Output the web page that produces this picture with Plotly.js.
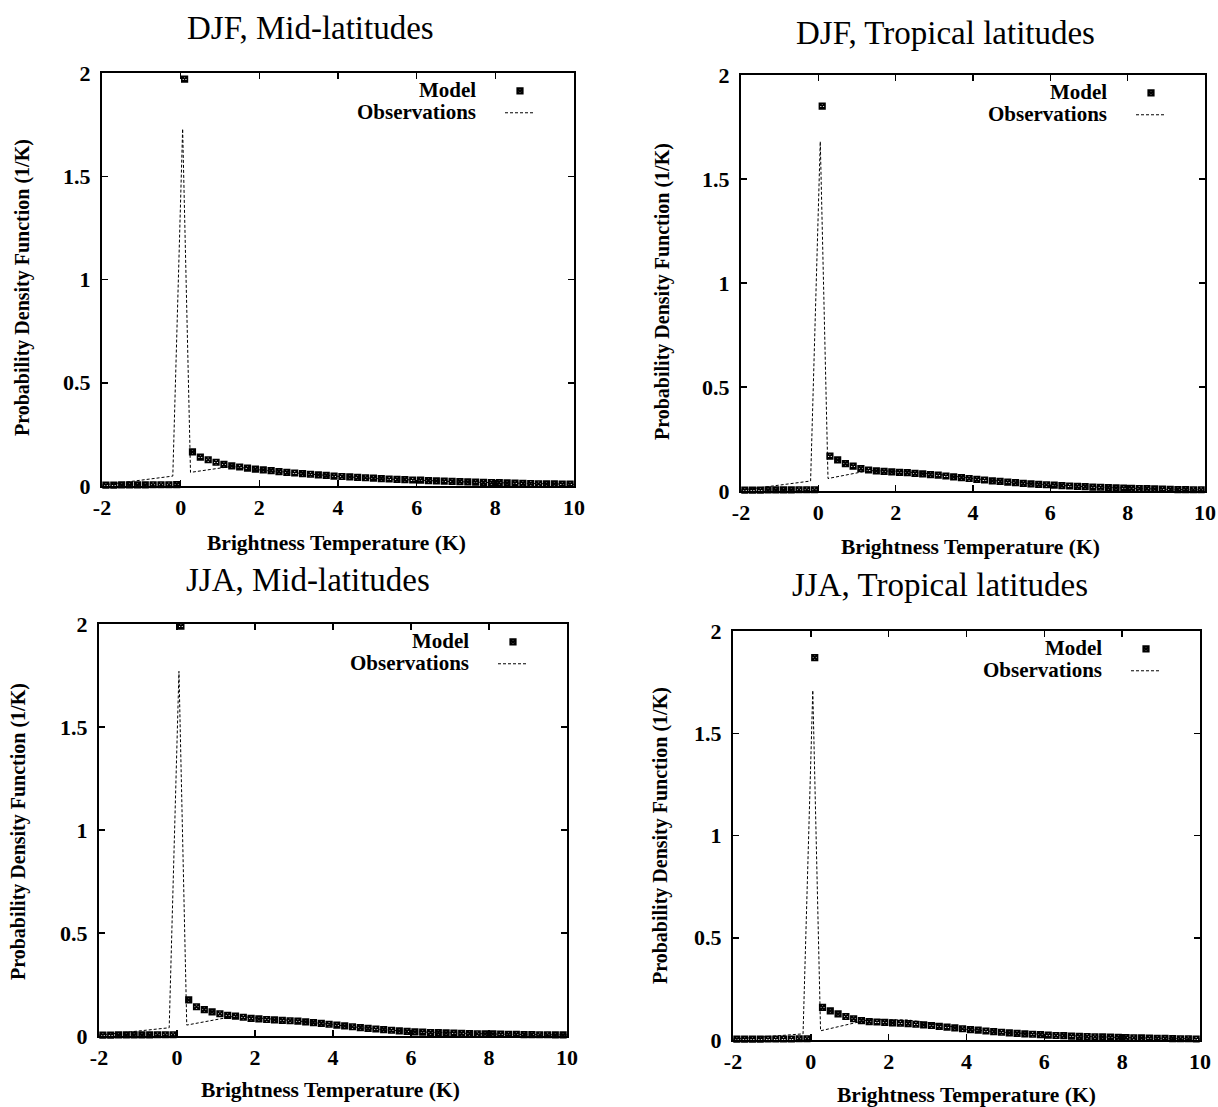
<!DOCTYPE html>
<html><head><meta charset="utf-8">
<script src="https://cdn.plot.ly/plotly-3.0.1.min.js"></script>
<style>html,body{margin:0;padding:0;background:#fff}</style>
</head><body><div id="chart" style="width:1218px;height:1107px"></div>
<script>
// ---- data ----
const panelTitles = ['DJF, Mid-latitudes', 'DJF, Tropical latitudes', 'JJA, Mid-latitudes', 'JJA, Tropical latitudes'];
const xTickVals = [-2, 0, 2, 4, 6, 8, 10];
const xTickText = ['-2', '0', '2', '4', '6', '8', '10'];
const yTickVals = [0, 0.5, 1, 1.5, 2];
const yTickText = ['0', '0.5', '1', '1.5', '2'];

const modelX = [-1.9, -1.7, -1.5, -1.3, -1.1, -0.9, -0.7, -0.5, -0.3, -0.1,
  0.1, 0.3, 0.5, 0.7, 0.9, 1.1, 1.3, 1.5, 1.7, 1.9,
  2.1, 2.3, 2.5, 2.7, 2.9, 3.1, 3.3, 3.5, 3.7, 3.9,
  4.1, 4.3, 4.5, 4.7, 4.9, 5.1, 5.3, 5.5, 5.7, 5.9,
  6.1, 6.3, 6.5, 6.7, 6.9, 7.1, 7.3, 7.5, 7.7, 7.9,
  8.1, 8.3, 8.5, 8.7, 8.9, 9.1, 9.3, 9.5, 9.7, 9.9];

const djfMidModel = [0.004, 0.004, 0.005, 0.005, 0.005, 0.005, 0.006, 0.006, 0.006, 0.007,
  1.97, 0.165, 0.140, 0.127, 0.115, 0.105, 0.097, 0.092, 0.087, 0.082,
  0.078, 0.074, 0.070, 0.066, 0.063, 0.060, 0.057, 0.054, 0.051, 0.048,
  0.046, 0.044, 0.042, 0.040, 0.038, 0.036, 0.034, 0.032, 0.031, 0.029,
  0.028, 0.026, 0.025, 0.024, 0.022, 0.021, 0.020, 0.019, 0.018, 0.017,
  0.016, 0.015, 0.014, 0.013, 0.012, 0.011, 0.010, 0.010, 0.009, 0.009];
const djfTropModel = [0.004, 0.004, 0.004, 0.005, 0.005, 0.005, 0.005, 0.006, 0.006, 0.006,
  1.85, 0.168, 0.150, 0.132, 0.120, 0.108, 0.101, 0.097, 0.094, 0.092,
  0.090, 0.088, 0.085, 0.082, 0.079, 0.076, 0.072, 0.068, 0.064, 0.060,
  0.056, 0.053, 0.049, 0.046, 0.043, 0.040, 0.037, 0.034, 0.032, 0.030,
  0.028, 0.026, 0.024, 0.022, 0.021, 0.019, 0.018, 0.016, 0.015, 0.014,
  0.013, 0.012, 0.011, 0.010, 0.009, 0.008, 0.007, 0.007, 0.006, 0.006];
const jjaMidModel = [0.004, 0.004, 0.005, 0.005, 0.005, 0.005, 0.005, 0.006, 0.006, 0.006,
  1.99, 0.175, 0.142, 0.128, 0.117, 0.108, 0.100, 0.096, 0.091, 0.086,
  0.083, 0.080, 0.078, 0.076, 0.074, 0.072, 0.069, 0.065, 0.061, 0.057,
  0.053, 0.049, 0.045, 0.041, 0.037, 0.034, 0.031, 0.028, 0.025, 0.022,
  0.020, 0.019, 0.017, 0.016, 0.015, 0.014, 0.013, 0.012, 0.011, 0.010,
  0.010, 0.009, 0.008, 0.008, 0.007, 0.007, 0.006, 0.006, 0.005, 0.005];
const jjaTropModel = [0.004, 0.004, 0.004, 0.004, 0.005, 0.005, 0.005, 0.005, 0.006, 0.006,
  1.87, 0.160, 0.142, 0.128, 0.115, 0.104, 0.095, 0.090, 0.088, 0.086,
  0.084, 0.082, 0.080, 0.077, 0.074, 0.071, 0.067, 0.063, 0.059, 0.055,
  0.051, 0.048, 0.044, 0.041, 0.038, 0.035, 0.032, 0.030, 0.028, 0.026,
  0.024, 0.022, 0.021, 0.019, 0.018, 0.017, 0.016, 0.015, 0.014, 0.013,
  0.012, 0.011, 0.010, 0.009, 0.008, 0.008, 0.007, 0.006, 0.006, 0.005];

const djfMidObsX = [-2, -0.2, 0.05, 0.25, 1.3, 2, 3, 4, 5, 6, 7, 8, 9, 10];
const djfMidObs = [0.004, 0.048, 1.73, 0.066, 0.095, 0.078, 0.062, 0.047, 0.036, 0.028, 0.021, 0.016, 0.011, 0.008];
const djfTropObsX = [-2, -0.2, 0.05, 0.25, 1.3, 2, 3, 4, 5, 6, 7, 8, 9, 10];
const djfTropObs = [0.004, 0.048, 1.68, 0.060, 0.098, 0.095, 0.082, 0.060, 0.042, 0.029, 0.020, 0.013, 0.008, 0.005];
const jjaMidObsX = [-2, -0.2, 0.05, 0.25, 1.5, 2, 3, 4, 5, 6, 7, 8, 9, 10];
const jjaMidObs = [0.004, 0.040, 1.77, 0.053, 0.097, 0.088, 0.075, 0.055, 0.035, 0.021, 0.015, 0.010, 0.007, 0.005];
const jjaTropObsX = [-2, -0.2, 0.05, 0.25, 1.5, 2.5, 3.5, 4, 5, 6, 7, 8, 9, 10];
const jjaTropObs = [0.004, 0.030, 1.71, 0.045, 0.100, 0.098, 0.070, 0.052, 0.037, 0.026, 0.018, 0.012, 0.008, 0.005];

// ---- layout helpers ----
const W = 1218, H = 1107;
const px = v => v / W;
const py = v => 1 - v / H;

// plot boxes in pixels: [left, right, top, bottom]
const boxes = [[102, 574, 73, 486], [741, 1205, 75, 491], [99, 567, 624, 1036], [733, 1200, 631, 1040]];
const titlePos = [[310, 28], [945, 33], [308, 580], [940, 585]];
const xTitlePos = [[336, 543], [970, 547], [330, 1090], [966, 1095]];
const yTitlePos = [[22, 288], [662, 292], [18, 832], [660, 836]];

const modelSets = [djfMidModel, djfTropModel, jjaMidModel, jjaTropModel];
const obsXSets = [djfMidObsX, djfTropObsX, jjaMidObsX, jjaTropObsX];
const obsSets = [djfMidObs, djfTropObs, jjaMidObs, jjaTropObs];

const serif = 'Liberation Serif, Times New Roman, serif';
const boldFont = (s) => ({family: serif, size: s, color: '#000', weight: 'bold'});

const traces = [];
const layout = {
  width: W, height: H,
  margin: {l: 0, r: 0, t: 0, b: 0},
  paper_bgcolor: '#fff', plot_bgcolor: '#fff',
  showlegend: true,
  annotations: [],
  font: {family: serif, color: '#000'}
};

for (let i = 0; i < 4; i++) {
  const n = i === 0 ? '' : String(i + 1);
  const lg = 'legend' + n;
  const [l, r, t, b] = boxes[i];
  traces.push({
    type: 'scatter', mode: 'markers', x: modelX, y: modelSets[i],
    xaxis: 'x' + n, yaxis: 'y' + n, name: ' ', legend: lg,
    cliponaxis: false,
    marker: {symbol: 'square-x-open', size: 5.5, color: '#000', line: {color: '#000', width: 1.7}}
  });
  traces.push({
    type: 'scatter', mode: 'lines', x: obsXSets[i], y: obsSets[i],
    xaxis: 'x' + n, yaxis: 'y' + n, name: ' ', legend: lg,
    line: {color: '#000', width: 1, dash: '3px,2px'}
  });
  const common = {
    ticks: 'inside', ticklen: 6, tickwidth: 1.5, tickcolor: '#000',
    showline: true, linecolor: '#000', linewidth: 2, mirror: 'ticks',
    showgrid: false, zeroline: false, fixedrange: true,
    tickfont: boldFont(22)
  };
  layout['xaxis' + n] = Object.assign({}, common, {
    domain: [px(l), px(r)], anchor: 'y' + n, range: [-2, 10],
    tickmode: 'array', tickvals: xTickVals, ticktext: xTickText, ticklabelstandoff: 1
  });
  layout['yaxis' + n] = Object.assign({}, common, {
    domain: [py(b), py(t)], anchor: 'x' + n, range: [0, 2],
    tickmode: 'array', tickvals: yTickVals, ticktext: yTickText, ticklabelstandoff: 5
  });
  layout[lg] = {
    x: px(r - 74), y: py(t + 2), xanchor: 'left', yanchor: 'top',
    bgcolor: 'rgba(0,0,0,0)', borderwidth: 0, font: {family: serif, size: 14.5},
    tracegroupgap: 0, itemwidth: 30, itemclick: false, itemdoubleclick: false
  };
  // panel title
  layout.annotations.push({
    xref: 'paper', yref: 'paper', x: px(titlePos[i][0]), y: py(titlePos[i][1]),
    xanchor: 'center', yanchor: 'middle', showarrow: false, text: panelTitles[i],
    font: {family: serif, size: 33, color: '#000'}
  });
  // axis titles
  layout.annotations.push({
    xref: 'paper', yref: 'paper', x: px(xTitlePos[i][0]), y: py(xTitlePos[i][1]),
    xanchor: 'center', yanchor: 'middle', showarrow: false, text: 'Brightness Temperature (K)',
    font: boldFont(21.5)
  });
  layout.annotations.push({
    xref: 'paper', yref: 'paper', x: px(yTitlePos[i][0]), y: py(yTitlePos[i][1]),
    xanchor: 'center', yanchor: 'middle', showarrow: false, textangle: -90,
    text: 'Probability Density Function (1/K)', font: boldFont(20)
  });
  // legend labels (right-aligned, left of the legend keys)
  layout.annotations.push({
    xref: 'paper', yref: 'paper', x: px(r - 96), y: py(t + 17),
    xanchor: 'right', yanchor: 'middle', showarrow: false, text: 'Model', font: boldFont(21)
  });
  layout.annotations.push({
    xref: 'paper', yref: 'paper', x: px(r - 96), y: py(t + 39),
    xanchor: 'right', yanchor: 'middle', showarrow: false, text: 'Observations', font: boldFont(21)
  });
}

Plotly.newPlot('chart', traces, layout, {displayModeBar: false, staticPlot: true});
</script>
</body></html>
